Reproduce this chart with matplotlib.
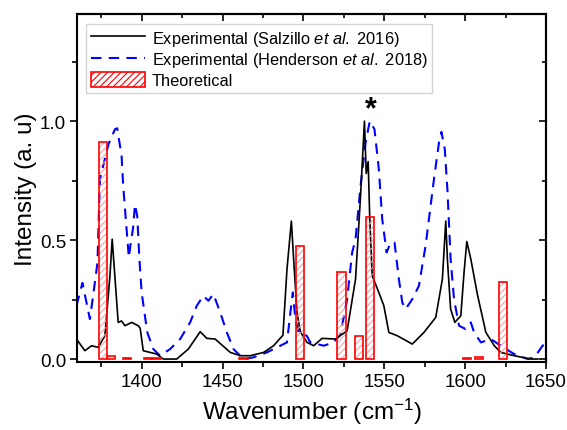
import numpy as np
import matplotlib
matplotlib.use('Agg')
import matplotlib.pyplot as plt
from matplotlib.ticker import MultipleLocator
from matplotlib.patches import Patch

plt.rcParams['font.family'] = ['Liberation Sans', 'DejaVu Sans']
plt.rcParams['mathtext.fontset'] = 'custom'
plt.rcParams['mathtext.rm'] = 'Liberation Sans'
plt.rcParams['mathtext.it'] = 'Liberation Sans:italic'
plt.rcParams['hatch.linewidth'] = 0.8

# Salzillo et al. 2016 (black, solid)
sal_x = [1359.6, 1364.8, 1368.9, 1373.0, 1377.2, 1380.3, 1381.7, 1382.9, 1385.4, 1387.5,
         1389.6, 1393.7, 1397.8, 1399.0, 1400.9, 1409.2, 1413.3, 1421.6, 1428.8, 1436.1,
         1440.2, 1445.4, 1454.7, 1460.9, 1467.1, 1475.4, 1481.5, 1487.3, 1489.8, 1492.5,
         1494.0, 1496.0, 1498.0, 1502.2, 1506.3, 1511.5, 1519.8, 1527.0, 1532.2, 1535.3,
         1537.7, 1538.8, 1540.0, 1541.0, 1542.5, 1546.6, 1549.7, 1552.8, 1558.0, 1567.3,
         1574.5, 1581.8, 1585.9, 1588.0, 1589.0, 1591.0, 1593.6, 1597.3, 1599.3, 1601.0,
         1603.5, 1607.6, 1612.8, 1618.0, 1622.0, 1630.3, 1640.7, 1645.0]
sal_y = [0.084, 0.035, 0.056, 0.049, 0.098, 0.35, 0.504, 0.39, 0.154, 0.16,
         0.14, 0.154, 0.14, 0.13, 0.035, 0.021, 0.0, 0.0, 0.042, 0.115,
         0.087, 0.084, 0.028, 0.014, 0.014, 0.028, 0.056, 0.10, 0.378, 0.58,
         0.41, 0.196, 0.115, 0.07, 0.056, 0.087, 0.084, 0.119, 0.336, 0.686,
         1.0, 0.78, 0.83, 0.588, 0.35, 0.28, 0.224, 0.112, 0.098, 0.063,
         0.112, 0.175, 0.336, 0.58, 0.42, 0.21, 0.154, 0.182, 0.364, 0.494,
         0.42, 0.27, 0.112, 0.056, 0.028, 0.014, 0.0, 0.0]

# Henderson et al. 2018 (blue, dashed)
hen_x = [1359.6, 1363.3, 1367.9, 1369.9, 1372.6, 1374.1, 1379.4, 1383.4, 1384.8, 1387.5,
         1388.5, 1390.6, 1392.0, 1393.2, 1394.6, 1395.8, 1397.2, 1398.4, 1399.9, 1403.4,
         1407.1, 1411.3, 1417.5, 1423.7, 1429.9, 1434.0, 1438.1, 1441.2, 1444.3, 1448.5,
         1452.6, 1456.7, 1462.9, 1469.1, 1477.4, 1483.6, 1489.8, 1491.9, 1493.4, 1495.0,
         1497.0, 1502.0, 1504.2, 1512.5, 1518.7, 1522.9, 1527.0, 1530.1, 1532.2, 1535.3,
         1538.4, 1541.0, 1543.9, 1546.6, 1548.7, 1551.4, 1553.9, 1556.3, 1559.0, 1561.1,
         1563.2, 1567.3, 1571.4, 1575.5, 1580.7, 1583.8, 1585.3, 1587.4, 1589.0, 1591.0,
         1593.1, 1596.2, 1600.3, 1603.5, 1605.5, 1609.7, 1615.9, 1622.0, 1630.3, 1638.6,
         1642.8, 1647.9, 1650.0]
hen_y = [0.224, 0.32, 0.168, 0.266, 0.406, 0.756, 0.903, 0.966, 0.97, 0.854,
         0.728, 0.546, 0.427, 0.49, 0.55, 0.65, 0.6, 0.435, 0.28, 0.112,
         0.042, 0.014, 0.042, 0.084, 0.154, 0.224, 0.266, 0.245, 0.273, 0.196,
         0.112, 0.042, 0.0, 0.007, 0.028, 0.049, 0.07, 0.196, 0.28, 0.168,
         0.112, 0.098, 0.07, 0.056, 0.07, 0.105, 0.252, 0.448, 0.504, 0.728,
         0.91, 1.0, 0.966, 0.798, 0.588, 0.448, 0.49, 0.49, 0.336, 0.238,
         0.21, 0.252, 0.308, 0.476, 0.756, 0.91, 0.955, 0.882, 0.714, 0.42,
         0.252, 0.14, 0.126, 0.154, 0.112, 0.07, 0.084, 0.056, 0.021, 0.0,
         0.007, 0.056, 0.07]

# Theoretical modes (red hatched bars)
theo_x = [1376, 1381, 1391, 1404, 1409, 1463, 1498, 1523.4, 1534.4, 1541.2, 1601, 1608.5, 1623.5]
theo_y = [0.913, 0.012, 0.006, 0.006, 0.006, 0.005, 0.476, 0.364, 0.095, 0.598, 0.006, 0.01, 0.322]

fig = plt.figure(figsize=(5.67, 4.31), dpi=100)
ax = fig.add_axes([0.136, 0.158, 0.827, 0.807])

ax.plot(sal_x, sal_y, color='black', lw=1.2, zorder=3,
        label=r'Experimental (Salzillo $\it{et\ al.}$ 2016)')
ax.plot(hen_x, hen_y, color='blue', lw=1.5, ls=(0, (5, 3.5)), zorder=2,
        label=r'Experimental (Henderson $\it{et\ al.}$ 2018)')

# hatch drawn in light red, outline in red
ax.bar(theo_x, theo_y, width=5.2, color='none', edgecolor='#f5a0a0', hatch='/////',
       lw=0, zorder=4)
ax.bar(theo_x, theo_y, width=5.2, fill=False, edgecolor='red', lw=1.2, zorder=5)

handles, labels = ax.get_legend_handles_labels()
handles.append(Patch(facecolor='white', edgecolor='red', hatch='/////', lw=1.2))
labels.append('Theoretical')
leg = ax.legend(handles, labels, loc='upper left', bbox_to_anchor=(0.012, 0.982),
                fontsize=11.8, frameon=True, fancybox=False, edgecolor='#c8c8c8',
                handlelength=3.3, handleheight=1.0, handletextpad=0.4, borderpad=0.3,
                labelspacing=0.18, borderaxespad=0.2)
leg.get_frame().set_linewidth(1.0)

ax.text(1541.5, 1.05, '*', fontsize=22, fontweight='bold', ha='center', va='center')

ax.set_xlim(1360, 1650)
ax.set_ylim(-0.012, 1.45)
ax.xaxis.set_major_locator(MultipleLocator(50))
ax.xaxis.set_minor_locator(MultipleLocator(25))
ax.yaxis.set_major_locator(MultipleLocator(0.5))
ax.yaxis.set_minor_locator(MultipleLocator(0.25))
ax.yaxis.set_major_formatter(matplotlib.ticker.FormatStrFormatter('%.1f'))

ax.tick_params(axis='both', which='both', direction='out', labelsize=13.5, width=1.2)
ax.tick_params(which='major', length=5, pad=3)
ax.tick_params(which='minor', length=3.5)

# mirrored ticks on top and right point inward
ax_top = ax.secondary_xaxis('top')
ax_top.xaxis.set_major_locator(MultipleLocator(50))
ax_top.xaxis.set_minor_locator(MultipleLocator(25))
ax_top.tick_params(which='both', direction='in', labeltop=False, width=1.2)
ax_top.tick_params(which='major', length=5)
ax_top.tick_params(which='minor', length=3)
ax_right = ax.secondary_yaxis('right')
ax_right.yaxis.set_major_locator(MultipleLocator(0.5))
ax_right.yaxis.set_minor_locator(MultipleLocator(0.25))
ax_right.tick_params(which='both', direction='in', labelright=False, width=1.2)
ax_right.tick_params(which='major', length=5)
ax_right.tick_params(which='minor', length=3)

for a in (ax, ax_top, ax_right):
    for sp in a.spines.values():
        sp.set_linewidth(1.5)

ax.set_xlabel(r'Wavenumber (cm$^{\mathregular{-1}}$)', fontsize=17.5, labelpad=4)
ax.set_ylabel('Intensity (a. u)', fontsize=17.5, labelpad=2)

fig.savefig('out.png', dpi=100)
